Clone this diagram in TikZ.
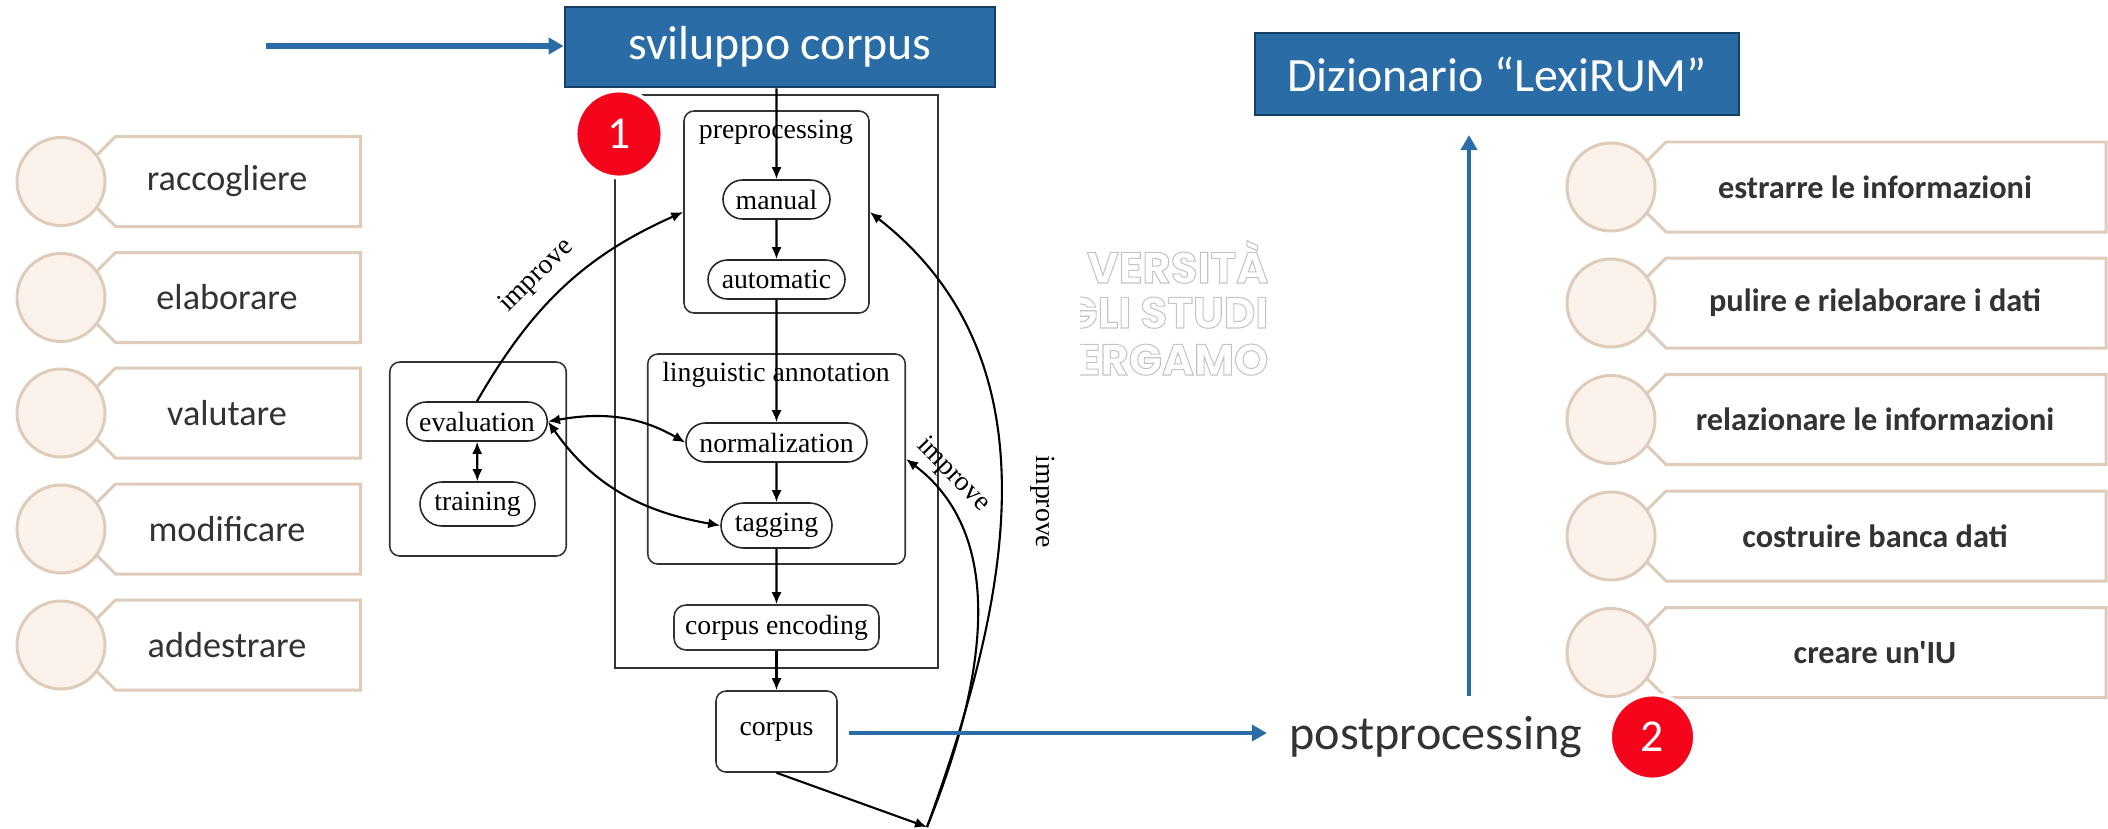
\documentclass[tikz,border=0pt]{standalone}
\usepackage{fontspec}
\setmainfont{Liberation Serif}
\newfontfamily\slidefont{Carlito}
\newfontfamily\logofont{Poppins}
\usetikzlibrary{arrows.meta,shapes.misc}
\definecolor{slideblue}{HTML}{2A6CA6}
\definecolor{slideedge}{HTML}{173F66}
\definecolor{itemline}{HTML}{DFCBBA}
\definecolor{itemfill}{HTML}{FBF2EB}
\definecolor{badgered}{HTML}{F5051C}
\definecolor{slidetext}{HTML}{333333}
\definecolor{logogray}{HTML}{C4C4C4}
\newcommand{\outlined}[1]{\special{pdf:code 1 Tr 0.3 w}#1\special{pdf:code 0 Tr}}
\begin{document}
\begin{tikzpicture}[
  serif/.style={font=\fontsize{7.9}{9}\selectfont},
  frame/.style={draw=black!80,line width=0.45pt,rounded corners=0.1cm,inner sep=0pt},
  pill/.style={rounded rectangle,draw=black!85,line width=0.45pt,inner sep=0pt,serif},
  flow/.style={semithick,-{Latex[length=1.2mm,width=1mm]}},
  twoway/.style={semithick,{Latex[length=1.2mm,width=1mm]}-{Latex[length=1.2mm,width=1mm]}},
  bluearrow/.style={slideblue,line width=1.15pt,-{Triangle[length=1.5mm,width=1.6mm]}},
  headbox/.style={draw=slideedge,line width=0.75pt,fill=slideblue,text=white,inner sep=0pt,font=\slidefont\fontsize{13.6}{16}\selectfont},
  bullet/.style={circle,draw=itemline,fill=itemfill,line width=0.85pt,minimum size=0.88cm,inner sep=0pt},
  taskbox/.style={chamfered rectangle,chamfered rectangle corners={north west,south west},chamfered rectangle xsep=0.11cm,chamfered rectangle ysep=0.11cm,draw=itemline,line width=0.85pt,fill=white,minimum height=0.9cm,inner sep=0pt,text=slidetext},
  leftitem/.style={taskbox,minimum width=2.67cm,font=\slidefont\fontsize{10.3}{12}\selectfont},
  rightitem/.style={taskbox,minimum width=4.62cm,font=\slidefont\bfseries\fontsize{9.2}{11}\selectfont},
  badge/.style={circle,fill=badgered,draw=white,line width=1.1pt,inner sep=0pt,text=white,font=\slidefont\fontsize{13}{15}\selectfont},
  logoline/.style={anchor=base east,inner sep=0pt,text=logogray,font=\logofont\bfseries\fontsize{12.4}{14}\selectfont}
]
\useasboundingbox (0,0) rectangle (21.08,-8.28);

%left list
\node[leftitem] (raccBox) at (2.27,-1.815) {raccogliere};
\node[bullet] (raccDot) at (0.61,-1.815) {};
\node[leftitem] (elabBox) at (2.27,-2.975) {elaborare};
\node[bullet] (elabDot) at (0.61,-2.975) {};
\node[leftitem] (valuBox) at (2.27,-4.13) {valutare};
\node[bullet] (valuDot) at (0.61,-4.13) {};
\node[leftitem] (modiBox) at (2.27,-5.29) {modificare};
\node[bullet] (modiDot) at (0.61,-5.29) {};
\node[leftitem] (addeBox) at (2.27,-6.45) {addestrare};
\node[bullet] (addeDot) at (0.61,-6.45) {};

%right list
\node[rightitem] (estrBox) at (18.75,-1.87) {estrarre le informazioni};
\node[bullet] (estrDot) at (16.11,-1.87) {};
\node[rightitem] (puliBox) at (18.75,-3.03) {pulire e rielaborare i dati};
\node[bullet] (puliDot) at (16.11,-3.03) {};
\node[rightitem] (relaBox) at (18.75,-4.195) {relazionare le informazioni};
\node[bullet] (relaDot) at (16.11,-4.195) {};
\node[rightitem] (costBox) at (18.75,-5.36) {costruire banca dati};
\node[bullet] (costDot) at (16.11,-5.36) {};
\node[rightitem] (creaBox) at (18.75,-6.525) {creare un'IU};
\node[bullet] (creaDot) at (16.11,-6.525) {};

%logo
\begin{scope}
\clip (10.8,-2.3) rectangle (12.75,-3.9);
\node[logoline] (logoA) at (12.69,-2.83) {\outlined{VERSITÀ}};
\node[logoline] (logoB) at (12.69,-3.28) {\outlined{GLI STUDI}};
\node[logoline] (logoC) at (12.69,-3.75) {\outlined{BERGAMO}};
\end{scope}

%containers
\node[draw=black!80,line width=0.45pt,minimum width=3.23cm,minimum height=5.73cm,inner sep=0pt] (pipeBox) at (7.765,-3.815) {};
\node[frame,minimum width=1.85cm,minimum height=2.02cm] (prepBox) at (7.765,-2.12) {};
\node[frame,minimum width=2.575cm,minimum height=2.1cm] (lingBox) at (7.765,-4.59) {};
\node[frame,minimum width=1.765cm,minimum height=1.94cm] (evalBox) at (4.78,-4.59) {};
\node[serif] (prepText) at (7.76,-1.32) {preprocessing};
\node[serif] (lingText) at (7.76,-3.75) {linguistic annotation};

%steps
\node[pill,minimum width=1.07cm,minimum height=0.39cm] (manual) at (7.765,-1.995) {manual};
\node[pill,minimum width=1.37cm,minimum height=0.39cm] (automatic) at (7.765,-2.795) {automatic};
\node[pill,minimum width=1.81cm,minimum height=0.39cm] (normalization) at (7.765,-4.425) {normalization};
\node[pill,minimum width=1.11cm,minimum height=0.45cm] (tagging) at (7.765,-5.255) {tagging};
\node[pill,minimum width=1.405cm,minimum height=0.39cm] (evaluation) at (4.77,-4.215) {evaluation};
\node[pill,minimum width=1.15cm,minimum height=0.44cm] (training) at (4.775,-5.04) {training};
\node[frame,serif,minimum width=2.05cm,minimum height=0.45cm,rounded corners=0.12cm] (encoding) at (7.765,-6.275) {corpus encoding};
\node[frame,serif,minimum width=1.21cm,minimum height=0.81cm] (corpus) at (7.765,-7.315) {\raisebox{0.04cm}{corpus}};

%head boxes
\node[headbox,minimum width=4.3cm,minimum height=0.8cm] (devBox) at (7.8,-0.47) {sviluppo corpus};
\node[headbox,minimum width=4.84cm,minimum height=0.82cm] (dictBox) at (14.97,-0.74) {Dizionario “LexiRUM”};
\node[inner sep=0.22cm,text=slidetext,font=\slidefont\fontsize{13.7}{16}\selectfont] (postproc) at (14.36,-7.37) {postprocessing};

%black arrows
\draw[flow] (devBox.south -| manual.north) -- (manual);
\draw[flow] (manual) -- (automatic);
\draw[flow] (automatic) -- (normalization);
\draw[flow] (normalization) -- (tagging);
\draw[flow] (tagging) -- (encoding);
\draw[flow] (encoding) -- (corpus);
\draw[twoway] (evaluation) -- (training);
\draw[twoway] (evaluation.east) to[out=10,in=150] (normalization.west);
\draw[twoway] (evaluation.east) to[out=-55,in=170] (tagging.west);

%improve loops
\coordinate (fork) at (9.27,-8.27);
\draw[flow] (corpus.south) -- (fork);
\draw[flow] (evaluation.north) to[out=60,in=204] node[pos=0.46,serif,sloped,above=0.02cm] {improve} (prepBox.west);
\draw[flow] (fork) to[out=68,in=-37,looseness=0.95] (lingBox.east);
\draw[flow] (fork) to[out=70,in=-38,looseness=1] (prepBox.east);
\node[serif,rotate=-46] (improveB) at (9.53,-4.75) {improve};
\node[serif,rotate=-90] (improveC) at (10.43,-5.02) {improve};

%blue arrows
\coordinate (feed) at (2.66,-0.46);
\coordinate (corpusOut) at (8.49,-7.33);
\coordinate (upStart) at (14.69,-6.96);
\coordinate (upEnd) at (14.69,-1.35);
\draw[bluearrow,line width=1.7pt] (feed) -- (feed -| devBox.west);
\draw[bluearrow] (corpusOut) -- (corpusOut -| postproc.west);
\draw[bluearrow] (upStart) -- (upEnd);

%numbers
\node[badge,minimum size=0.87cm] (one) at (6.19,-1.34) {1};
\node[badge,minimum size=0.85cm] (two) at (16.525,-7.37) {2};
\end{tikzpicture}
\end{document}
